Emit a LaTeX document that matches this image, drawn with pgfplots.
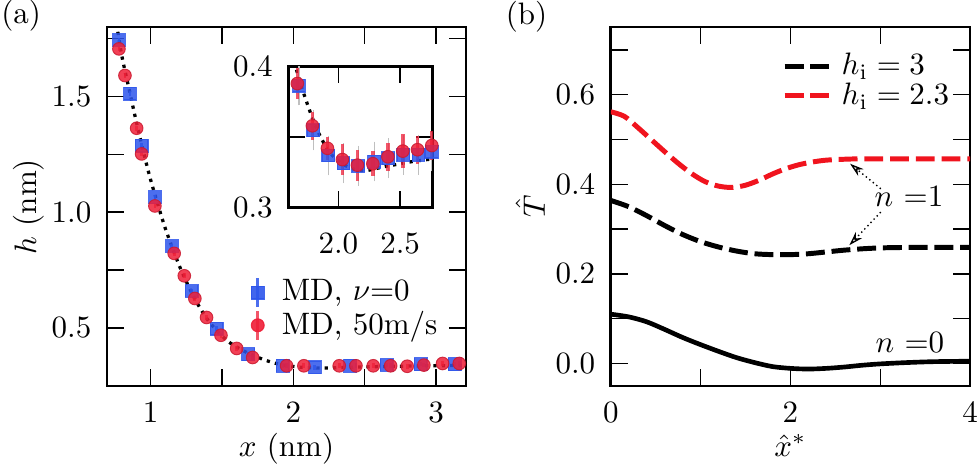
\documentclass[border=0pt]{standalone}
\usepackage{pgfplots}
\usepackage{pgfplotstable}
\pgfplotsset{compat=1.18}
\usetikzlibrary{arrows.meta}
\definecolor{mdblue}{RGB}{45,85,235}
\definecolor{mdred}{RGB}{238,30,55}
\definecolor{lred}{RGB}{240,20,30}

\pgfplotstableread{
x y
0.77 1.78
0.80 1.67
0.85 1.53
0.90 1.39
0.95 1.26
1.00 1.14
1.05 1.035
1.10 0.935
1.15 0.85
1.20 0.77
1.25 0.70
1.30 0.637
1.35 0.582
1.40 0.535
1.45 0.497
1.50 0.465
1.55 0.438
1.60 0.418
1.65 0.401
1.70 0.386
1.75 0.373
1.80 0.361
1.85 0.351
1.90 0.343
1.95 0.337
2.00 0.333
2.05 0.330
2.10 0.328
2.15 0.3267
2.20 0.3262
2.25 0.3265
2.30 0.3275
2.35 0.3285
2.40 0.3295
2.45 0.3302
2.50 0.331
2.60 0.3326
2.70 0.3338
2.80 0.3348
2.90 0.3356
3.00 0.3362
3.10 0.3368
3.20 0.337
}\theory

\pgfplotstableread{
x y e
0.778 1.745 0.01
0.855 1.512 0.01
0.937 1.288 0.01
1.030 1.065 0.01
1.149 0.854 0.01
1.287 0.659 0.01
1.462 0.497 0.01
1.684 0.386 0.01
1.925 0.336 0.01
2.151 0.329 0.01
2.397 0.336 0.01
2.654 0.339 0.01
2.892 0.343 0.01
3.132 0.343 0.01
}\bluemain

\pgfplotstableread{
x y e
0.778 1.706 0.01
0.820 1.591 0.01
0.902 1.363 0.01
0.937 1.252 0.01
1.030 1.027 0.01
1.165 0.822 0.01
1.236 0.725 0.01
1.310 0.627 0.01
1.392 0.545 0.01
1.493 0.468 0.01
1.603 0.411 0.01
1.715 0.372 0.01
1.953 0.336 0.01
2.074 0.336 0.01
2.322 0.336 0.01
2.439 0.336 0.01
2.560 0.336 0.01
2.682 0.336 0.01
2.798 0.334 0.01
2.915 0.339 0.01
3.046 0.346 0.01
3.163 0.346 0.01
}\redmain

\pgfplotstableread{
x y e
1.681 0.3866 0.008
1.797 0.3547 0.008
1.919 0.3369 0.008
2.041 0.3314 0.008
2.162 0.3295 0.008
2.290 0.3326 0.008
2.405 0.3350 0.008
2.527 0.3374 0.008
2.649 0.3374 0.008
2.757 0.3397 0.008
}\blueinset

\pgfplotstableread{
x y e
1.667 0.388 0.011
1.789 0.358 0.010
1.911 0.342 0.008
2.032 0.334 0.011
2.154 0.330 0.011
2.279 0.331 0.009
2.401 0.336 0.010
2.522 0.340 0.012
2.641 0.341 0.010
2.757 0.344 0.010
}\redinset

\pgfplotstableread{
x y
0 0.562
0.15 0.552
0.3 0.527
0.45 0.500
0.6 0.473
0.75 0.447
0.9 0.424
1.05 0.406
1.2 0.396
1.35 0.393
1.5 0.398
1.65 0.409
1.8 0.423
1.95 0.435
2.1 0.444
2.25 0.450
2.4 0.454
2.6 0.456
2.8 0.457
3.2 0.457
4.0 0.457
}\redT

\pgfplotstableread{
x y
0 0.364
0.2 0.350
0.4 0.330
0.6 0.308
0.8 0.288
1.0 0.272
1.2 0.260
1.4 0.251
1.6 0.245
1.8 0.243
2.0 0.243
2.2 0.245
2.4 0.249
2.6 0.253
2.8 0.256
3.0 0.258
3.3 0.259
4.0 0.259
}\blackT

\pgfplotstableread{
x y
0 0.110
0.2 0.104
0.4 0.093
0.6 0.076
0.8 0.058
1.0 0.042
1.2 0.027
1.4 0.013
1.6 0.002
1.8 -0.007
2.0 -0.011
2.2 -0.0125
2.4 -0.011
2.6 -0.008
2.8 -0.004
3.0 -0.001
3.3 0.002
3.6 0.004
4.0 0.005
}\zeroT

\begin{document}
\begin{tikzpicture}
\useasboundingbox (0,0) rectangle (316.1pt,151pt);
\pgfplotsset{
  every axis/.append style={
    scale only axis,
    axis line style={line width=0.85pt},
    every tick/.style={line width=0.45pt, black},
    major tick length=5.4pt, minor tick length=5.4pt,
    tick align=inside,
    xticklabel style={yshift=-1.7pt},
    yticklabel style={xshift=-1.5pt},
  },
  dotcurve/.style={black, line width=1.05pt, dash pattern=on 1.05pt off 1.65pt, smooth},
}
\node at (6.8pt,145.8pt) {(a)};
\node at (169.8pt,145.5pt) {(b)};

% ---------- panel (a) ----------
\begin{axis}[
  at={(34.5pt,26.45pt)}, anchor=south west,
  width=115.8pt, height=115.8pt,
  xmin=0.694, xmax=3.21, ymin=0.248, ymax=1.80,
  xtick={1,2,3}, minor xtick={1.5,2.5},
  ytick={0.5,1,1.5}, minor ytick={0.75,1.25,1.75},
  yticklabel style={/pgf/number format/fixed, /pgf/number format/fixed zerofill, /pgf/number format/precision=1},
  xlabel={$x$ (nm)}, ylabel={$h$ (nm)},
  xlabel style={at={(axis description cs:0.5,-0.173)}, anchor=center},
  ylabel style={at={(axis description cs:-0.219,0.5)}, anchor=center},
  legend cell align=left,
  legend style={draw=none, fill=none, at={(0.373,0.333)}, anchor=north west, row sep=-2.1pt},
]
\addplot[dotcurve, forget plot] table[x=x,y=y]{\theory};
\addplot[forget plot, only marks, mark=square*, mark size=2.05pt, color=mdblue,
  mark options={fill=mdblue, draw=mdblue, fill opacity=0.85, draw opacity=0.85},
  error bars/.cd, y dir=both, y explicit, error mark=none,
  error bar style={line width=0.9pt, mdblue, opacity=0.85},
  ] table[x=x,y=y,y error=e]{\bluemain};
\addplot[forget plot, only marks, mark=*, mark size=2.05pt, color=mdred,
  mark options={fill=mdred, draw=mdred!85!black, line width=0.3pt, fill opacity=0.85, draw opacity=0.85},
  error bars/.cd, y dir=both, y explicit, error mark=none,
  error bar style={line width=0.9pt, mdred, opacity=0.75},
  ] table[x=x,y=y,y error=e]{\redmain};
\addlegendimage{legend image code/.code={
  \draw[mdblue, line width=0.9pt, opacity=0.85] (0pt,-4.7pt) -- (0pt,4.7pt);
  \fill[mdblue, opacity=0.9] (-2.05pt,-2.05pt) rectangle (2.05pt,2.05pt);}}
\addlegendentry{\hspace*{3.5pt}MD, $\nu{=}0$}
\addlegendimage{legend image code/.code={
  \draw[mdred, line width=0.9pt, opacity=0.75] (0pt,-4.6pt) -- (0pt,4.6pt);
  \fill[mdred, opacity=0.9] (0pt,0pt) circle (2.05pt);}}
\addlegendentry{\hspace*{3.5pt}MD, 50m/s}
\end{axis}

% ---------- inset ----------
\begin{axis}[
  at={(93.0pt,84.1pt)}, anchor=south west,
  width=46.6pt, height=45.4pt,
  xmin=1.594, xmax=2.765, ymin=0.3, ymax=0.4,
  xtick={2,2.5}, xticklabels={2.0,2.5},
  ytick={0.3,0.4}, yticklabels={0.3,0.4}, minor ytick={0.35},
  xticklabel style={yshift=-2.9pt},
  axis background/.style={fill=white},
]
\addplot[dotcurve] table[x=x,y=y]{\theory};
\addplot[only marks, mark=square*, mark size=2.05pt, color=mdblue,
  mark options={fill=mdblue, draw=mdblue, fill opacity=0.85, draw opacity=0.85},
  error bars/.cd, y dir=both, y explicit, error mark=-, error mark options={black!25, line width=0.4pt, mark size=2.8pt},
  error bar style={line width=0.4pt, black!25},
  ] table[x=x,y=y,y error=e]{\blueinset};
\addplot[only marks, mark=*, mark size=2.05pt, color=mdred,
  mark options={fill=mdred, draw=mdred!85!black, line width=0.3pt, fill opacity=0.85, draw opacity=0.85},
  error bars/.cd, y dir=both, y explicit, error mark=none,
  error bar style={line width=1.1pt, mdred, opacity=0.75},
  ] table[x=x,y=y,y error=e]{\redinset};
\end{axis}

% ---------- panel (b) ----------
\begin{axis}[
  at={(197.0pt,26.45pt)}, anchor=south west,
  width=115.9pt, height=115.8pt,
  xmin=0, xmax=4, ymin=-0.0507, ymax=0.751,
  xtick={0,2,4}, minor xtick={1,3},
  ytick={0,0.2,0.4,0.6}, minor ytick={0.1,0.3,0.5,0.7},
  yticklabel style={/pgf/number format/fixed, /pgf/number format/fixed zerofill, /pgf/number format/precision=1},
  xlabel={$\hat{x}^*$}, ylabel={$\hat{T}$},
  xlabel style={at={(axis description cs:0.5,-0.165)}, anchor=center, inner sep=0pt},
  ylabel style={at={(axis description cs:-0.224,0.5)}, anchor=center},
  legend cell align=left,
  legend image code/.code={\draw[#1] (0pt,0pt) -- (14.2pt,0pt);},
  legend style={draw=none, fill=none, at={(0.4495,0.964)}, anchor=north west, row sep=-2.84pt, column sep=1.4pt},
]
\addplot[black, line width=1.6pt, dash pattern=on 6.1pt off 2.2pt, smooth] table[x=x,y=y]{\blackT};
\addlegendentry{$h_\mathrm{i} = 3$}
\addplot[lred, line width=1.6pt, dash pattern=on 6.1pt off 2.2pt, smooth] table[x=x,y=y]{\redT};
\addlegendentry{$h_\mathrm{i} = 2.3$}
\addplot[black, line width=1.5pt, smooth, forget plot] table[x=x,y=y]{\zeroT};
\draw[densely dotted, line width=0.45pt, -{Stealth[open, length=4.5pt, width=2.8pt]}] (axis cs:3.006,0.390) -- (axis cs:2.664,0.446);
\draw[densely dotted, line width=0.45pt, -{Stealth[open, length=4.5pt, width=2.8pt]}] (axis cs:3.006,0.338) -- (axis cs:2.656,0.264);
\node[anchor=base] at (axis cs:3.32,0.351) {$n$ =1};
\node[anchor=base] at (axis cs:3.33,0.024) {$n$ =0};
\end{axis}
\end{tikzpicture}
\end{document}
